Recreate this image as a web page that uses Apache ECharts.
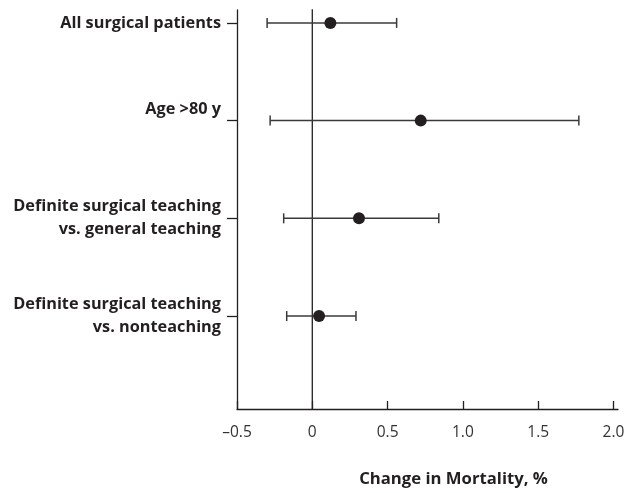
<!DOCTYPE html>
<html>
<head>
<meta charset="utf-8">
<script src="https://cdn.jsdelivr.net/npm/echarts@6/dist/echarts.min.js"></script>
<style>html,body{margin:0;padding:0;background:#fff;}#c{width:634px;height:493px;}</style>
</head>
<body>
<div id="c"></div>
<script>
const categories = [
  'All surgical patients',
  'Age >80 y\n ',
  'Definite surgical teaching\nvs. general teaching',
  'Definite surgical teaching\nvs. nonteaching'
];
const estimates = [0.12, 0.72, 0.31, 0.045];
const lower = [-0.30, -0.28, -0.19, -0.17];
const upper = [0.56, 1.77, 0.84, 0.29];
const xTicks = [-0.5, 0, 0.5, 1.0, 1.5, 2.0];
const xTickLabels = ['\u20130.5', '0', '0.5', '1.0', '1.5', '2.0'];
const rowPos = [0, 1, 2, 3];

const ink = '#231f20';
const chart = echarts.init(document.getElementById('c'));
chart.setOption({
  animation: false,
  grid: { left: 237, right: 16, top: 10, bottom: 80, containLabel: false },
  xAxis: {
    type: 'value', min: -0.5, max: 2.03,
    splitLine: { show: false },
    axisLine: { onZero: false, lineStyle: { color: ink, width: 1.3 } },
    axisTick: { inside: true, length: 8, customValues: xTicks, lineStyle: { color: ink, width: 1.3 } },
    axisLabel: {
      customValues: xTicks, margin: 16, color: '#333', fontSize: 15.5,
      fontFamily: 'Open Sans',
      formatter: v => { const i = xTicks.findIndex(t => Math.abs(t - v) < 1e-9); return i >= 0 ? xTickLabels[i] : ''; }
    },
    name: 'Change in Mortality, %', nameLocation: 'middle', nameGap: 62,
    nameTextStyle: { fontWeight: 'bold', fontSize: 16.7, color: ink, fontFamily: 'Open Sans', padding: [0, 0, 0, 52] }
  },
  yAxis: {
    type: 'value', inverse: true, min: -0.132, max: 3.951,
    splitLine: { show: false },
    axisLine: { onZero: false, lineStyle: { color: ink, width: 1.3 } },
    axisTick: { length: 10, customValues: rowPos, lineStyle: { color: ink, width: 1.3 } },
    axisLabel: {
      customValues: rowPos, margin: 16, color: ink, fontSize: 16.3, fontWeight: 'bold',
      fontFamily: 'Open Sans', align: 'right', lineHeight: 23,
      formatter: v => categories[Math.round(v)] || ''
    }
  },
  series: [
    {
      type: 'line', data: [[0, -0.16], [0, 3.951]], symbol: 'none', silent: true,
      lineStyle: { color: ink, width: 1.3 }, z: 1
    },
    {
      type: 'custom', z: 2,
      data: rowPos.map((r, i) => [lower[i], upper[i], r]),
      encode: { x: [0, 1], y: 2 },
      renderItem: (params, api) => {
        const y = api.value(2);
        const p1 = api.coord([api.value(0), y]);
        const p2 = api.coord([api.value(1), y]);
        const h = 5;
        const st = { stroke: '#3a3a3a', lineWidth: 1.5 };
        return {
          type: 'group',
          children: [
            { type: 'line', shape: { x1: p1[0], y1: p1[1], x2: p2[0], y2: p2[1] }, style: st },
            { type: 'line', shape: { x1: p1[0], y1: p1[1] - h, x2: p1[0], y2: p1[1] + h }, style: st },
            { type: 'line', shape: { x1: p2[0], y1: p2[1] - h, x2: p2[0], y2: p2[1] + h }, style: st }
          ]
        };
      }
    },
    {
      type: 'scatter', z: 3, symbol: 'circle', symbolSize: 12,
      data: rowPos.map((r, i) => [estimates[i], r]),
      itemStyle: { color: ink, opacity: 1 }
    }
  ]
});
</script>
</body>
</html>
